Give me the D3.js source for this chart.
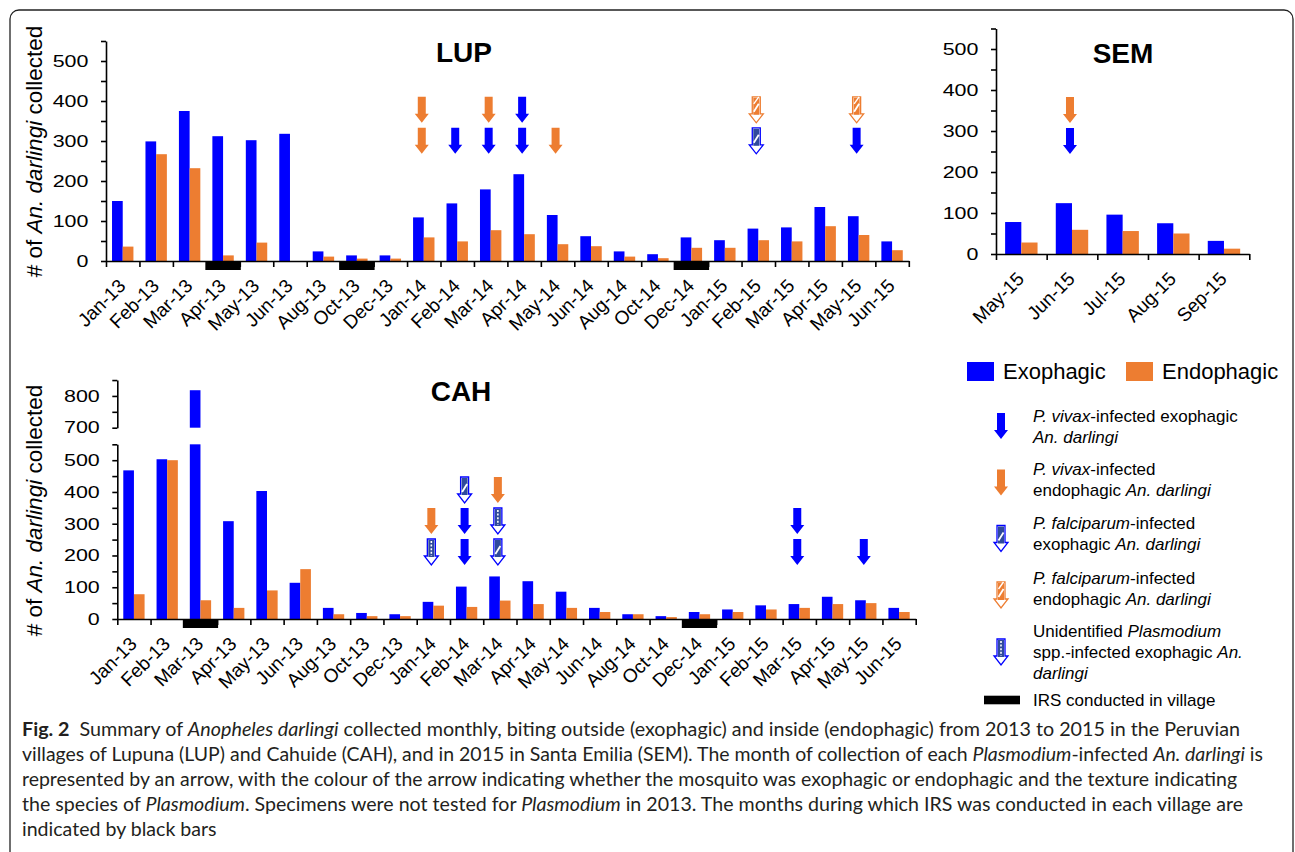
<!DOCTYPE html>
<html>
<head>
<meta charset="utf-8">
<script src="https://cdn.jsdelivr.net/npm/d3@7"></script>
<style>
  body { margin: 0; background: #fff; }
  svg { display: block; font-family: "Liberation Sans", Arial, sans-serif; }
</style>
</head>
<body>
<svg id="fig" width="1295" height="852"></svg>
<script>
// ---- data ----
const months = ["Jan-13","Feb-13","Mar-13","Apr-13","May-13","Jun-13","Aug-13","Oct-13","Dec-13",
  "Jan-14","Feb-14","Mar-14","Apr-14","May-14","Jun-14","Aug-14","Oct-14","Dec-14",
  "Jan-15","Feb-15","Mar-15","Apr-15","May-15","Jun-15"];

const lupExo  = [150,299,375,312,302,318,24,14,14,109,144,179,217,115,62,24,17,59,52,81,84,135,112,49];
const lupEndo = [36,267,232,14,46,0,11,6,6,59,49,77,67,42,37,11,7,33,33,52,49,87,65,27];
const lupIRS = ["Apr-13","Oct-13","Dec-14"];
const lupArrows = [
  {month: "Jan-14", level: 0, kind: "vivaxEndo"}, {month: "Jan-14", level: 1, kind: "vivaxEndo"},
  {month: "Feb-14", level: 0, kind: "vivaxExo"},
  {month: "Mar-14", level: 0, kind: "vivaxExo"}, {month: "Mar-14", level: 1, kind: "vivaxEndo"},
  {month: "Apr-14", level: 0, kind: "vivaxExo"}, {month: "Apr-14", level: 1, kind: "vivaxExo"},
  {month: "May-14", level: 0, kind: "vivaxEndo"},
  {month: "Feb-15", level: 0, kind: "falcExo"}, {month: "Feb-15", level: 1, kind: "falcEndo"},
  {month: "May-15", level: 0, kind: "vivaxExo"}, {month: "May-15", level: 1, kind: "falcEndo"}
];

const cahExo  = [468,503,818,308,403,114,35,19,15,54,102,134,119,86,35,15,9,22,30,43,47,70,59,35];
const cahEndo = [78,500,59,35,90,157,15,9,9,42,38,58,47,35,22,15,6,15,22,30,35,47,50,22];
const cahIRS = ["Mar-13","Dec-14"];
const cahArrows = [
  {month: "Jan-14", level: 0, kind: "unident"}, {month: "Jan-14", level: 1, kind: "vivaxEndo"},
  {month: "Feb-14", level: 0, kind: "vivaxExo"}, {month: "Feb-14", level: 1, kind: "vivaxExo"},
  {month: "Feb-14", level: 2, kind: "falcExo"},
  {month: "Mar-14", level: 0, kind: "falcExo"}, {month: "Mar-14", level: 1, kind: "unident"},
  {month: "Mar-14", level: 2, kind: "vivaxEndo"},
  {month: "Mar-15", level: 0, kind: "vivaxExo"}, {month: "Mar-15", level: 1, kind: "vivaxExo"},
  {month: "May-15", level: 0, kind: "vivaxExo"}
];

const semMonths = ["May-15","Jun-15","Jul-15","Aug-15","Sep-15"];
const semExo  = [78,124,96,75,32];
const semEndo = [28,59,56,50,13];
const semArrows = [
  {month: "Jun-15", level: 0, kind: "vivaxExo"}, {month: "Jun-15", level: 1, kind: "vivaxEndo"}
];

const blue = "#0000ff", orange = "#ed7d31", navy = "#2f4a9c";

const svg = d3.select("#fig");

// frame of the figure
svg.append("rect")
  .attr("x", 10).attr("y", 10).attr("width", 1283).attr("height", 900).attr("rx", 9)
  .attr("fill", "none").attr("stroke", "#222").attr("stroke-width", 1.3);

function drawArrow(parent, cx, tip, kind) {
  const L = 26, H = 9, w = 8, hw = 7;
  const g = parent.append("g").attr("transform", `translate(${cx},${tip})`);
  const d = `M${-w / 2},${-L}H${w / 2}V${-H}H${hw}L0,0L${-hw},${-H}H${-w / 2}Z`;
  if (kind == "vivaxExo" || kind == "vivaxEndo") {
    g.append("path").attr("d", d).attr("fill", kind == "vivaxExo" ? blue : orange);
    return;
  }
  const col = kind == "falcEndo" ? orange : blue;
  g.append("path").attr("d", d).attr("fill", "#fff").attr("stroke", col).attr("stroke-width", 1.3);
  g.append("rect").attr("x", -w / 2 + 1).attr("y", -L + 1).attr("width", w - 2).attr("height", L - H)
    .attr("fill", kind == "falcEndo" ? orange : navy);
  if (kind == "unident") {
    g.append("line").attr("x1", 0).attr("x2", 0).attr("y1", -24).attr("y2", -9)
      .attr("stroke", "#fff").attr("stroke-width", 1.6).attr("stroke-dasharray", "2,1.6");
  } else {
    g.append("line").attr("x1", -2.5).attr("y1", -11).attr("x2", 2.5).attr("y2", -19)
      .attr("stroke", "#fff").attr("stroke-width", 1.8);
    if (kind == "falcEndo") {
      g.append("line").attr("x1", -2.5).attr("y1", -19).attr("x2", 2.5).attr("y2", -26)
        .attr("stroke", "#fff").attr("stroke-width", 1.4);
    }
  }
}

function drawPanel(p) {
  const g = svg.append("g");
  const n = p.months.length;
  const x = d3.scaleBand().domain(p.months).range([p.left, p.right])
    .paddingInner(0.36).paddingOuter(0.18);
  const step = x.step();
  const sub = d3.scaleBand().domain(["exo", "endo"]).range([0, x.bandwidth()]);
  const yLow = d3.scaleLinear().domain([0, 550]).range([p.base, p.base - 550 * p.k]);
  const yUp = p.upper ? d3.scaleLinear().domain([700, 850]).range([p.upper, p.upper - 150 * p.k]) : null;

  // bars
  [["exo", p.exo, blue], ["endo", p.endo, orange]].forEach(([key, vals, col]) => {
    const rows = p.months.map((m, i) => ({m, v: vals[i]}));
    g.append("g").selectAll("rect").data(rows).join("rect")
      .attr("x", d => x(d.m) + sub(key))
      .attr("width", sub.bandwidth())
      .attr("y", d => yLow(Math.min(d.v, 550)))
      .attr("height", d => yLow(0) - yLow(Math.min(d.v, 550)))
      .attr("fill", col);
    if (yUp) {
      g.append("g").selectAll("rect").data(rows.filter(d => d.v > 700)).join("rect")
        .attr("x", d => x(d.m) + sub(key))
        .attr("width", sub.bandwidth())
        .attr("y", d => yUp(d.v))
        .attr("height", d => yUp(700) - yUp(d.v))
        .attr("fill", col);
    }
  });

  // x axis: boundary ticks and labels
  const xb = d3.scaleLinear().domain([0, n]).range([p.left, p.right]);
  const ax = g.append("g").attr("transform", `translate(0,${p.base})`)
    .call(d3.axisBottom(xb).tickValues(d3.range(n + 1)).tickSize(6).tickSizeOuter(0).tickFormat(""));
  ax.selectAll("path,line").attr("stroke", "#000").attr("stroke-width", 1.6);

  const lab = g.append("g").attr("transform", `translate(0,${p.base})`)
    .call(d3.axisBottom(x).tickSize(0).tickSizeOuter(0));
  lab.select(".domain").remove();
  lab.attr("font-family", null).attr("font-size", 19);
  lab.selectAll("text")
    .attr("y", null).attr("dy", null).attr("fill", "#000")
    .attr("text-anchor", "end")
    .attr("transform", "translate(4,26) rotate(-45)");

  // IRS bars
  g.append("g").selectAll("rect").data(p.irs || []).join("rect")
    .attr("x", m => x(m) - step * 0.18 - 1)
    .attr("width", step + 2)
    .attr("y", p.base)
    .attr("height", 9)
    .attr("fill", "#000");

  // y axis (possibly broken)
  function yAxis(scale, ticks) {
    const a = g.append("g").attr("transform", `translate(${p.left},0)`)
      .call(d3.axisLeft(scale).tickValues(ticks).tickSize(5).tickSizeOuter(0)
        .tickFormat(d => d % 100 ? "" : d));
    a.attr("font-family", null).attr("font-size", 16.5);
    a.selectAll("path,line").attr("stroke", "#000").attr("stroke-width", 1.6);
    a.selectAll("text").attr("x", -13.5).attr("fill", "#000").attr("transform", "scale(1.3,1)");
  }
  yAxis(yLow, d3.range(0, 551, 50));
  if (yUp) yAxis(yUp, [700, 750, 800, 850]);

  // title
  g.append("text").attr("x", p.titleX).attr("y", p.titleY)
    .attr("text-anchor", "middle").attr("font-weight", "bold").attr("font-size", 28)
    .text(p.title);

  // y label
  if (p.ylabY) {
    const t = g.append("text")
      .attr("transform", `translate(34,${p.ylabY}) rotate(-90)`)
      .attr("text-anchor", "middle").attr("dy", "0.35em").attr("font-size", 22.5);
    t.append("tspan").text("# of ");
    t.append("tspan").attr("font-style", "italic").text("An. darlingi");
    t.append("tspan").text(" collected");
  }

  // infection arrows
  const tip0 = yLow(p.arrowTip);
  p.arrows.forEach(a => drawArrow(g, x(a.month) + x.bandwidth() / 2 - 2, tip0 - a.level * 31, a.kind));
}

drawPanel({months, exo: lupExo, endo: lupEndo, irs: lupIRS, arrows: lupArrows,
  left: 106, right: 908.8, base: 261, k: 0.4, arrowTip: 268,
  title: "LUP", titleX: 464, titleY: 62, ylabY: 151.5});

drawPanel({months: semMonths, exo: semExo, endo: semEndo, irs: [], arrows: semArrows,
  left: 996, right: 1249.3, base: 254, k: 0.41, arrowTip: 244,
  title: "SEM", titleX: 1123, titleY: 62.5});

drawPanel({months, exo: cahExo, endo: cahEndo, irs: cahIRS, arrows: cahArrows,
  left: 117.3, right: 915.7, base: 619, k: 0.3176, upper: 427.7, arrowTip: 170,
  title: "CAH", titleX: 461, titleY: 401, ylabY: 510.5});

// ---- legend ----
const lg = svg.append("g");
[["Exophagic", blue, 967], ["Endophagic", orange, 1126]].forEach(([name, col, lx]) => {
  lg.append("rect").attr("x", lx).attr("y", 362).attr("width", 27).attr("height", 19).attr("fill", col);
  lg.append("text").attr("x", lx + 36).attr("y", 371.5).attr("dy", "0.36em")
    .attr("font-size", 22).text(name);
});

const legendItems = [
  {kind: "vivaxExo", tip: 439, top: 415.7,
    lines: [[["P. vivax", 1], ["-infected exophagic", 0]], [["An. darlingi", 1]]]},
  {kind: "vivaxEndo", tip: 495.5, top: 468.5,
    lines: [[["P. vivax", 1], ["-infected", 0]], [["endophagic ", 0], ["An. darlingi", 1]]]},
  {kind: "falcExo", tip: 551.5, top: 523.3,
    lines: [[["P. falciparum", 1], ["-infected", 0]], [["exophagic ", 0], ["An. darlingi", 1]]]},
  {kind: "falcEndo", tip: 608, top: 577.7,
    lines: [[["P. falciparum", 1], ["-infected", 0]], [["endophagic ", 0], ["An. darlingi", 1]]]},
  {kind: "unident", tip: 665, top: 631,
    lines: [[["Unidentified ", 0], ["Plasmodium", 1]], [["spp.-infected exophagic ", 0], ["An.", 1]], [["darlingi", 1]]]}
];
legendItems.forEach(it => {
  drawArrow(lg, 1001, it.tip, it.kind);
  it.lines.forEach((segs, li) => {
    const t = lg.append("text").attr("x", 1033).attr("y", it.top + li * 21).attr("dy", "0.36em")
      .attr("font-size", 17);
    segs.forEach(([s, it2]) => t.append("tspan").attr("font-style", it2 ? "italic" : null).text(s));
  });
});
lg.append("rect").attr("x", 984).attr("y", 695.7).attr("width", 36).attr("height", 8.6).attr("fill", "#000");
lg.append("text").attr("x", 1033).attr("y", 700).attr("dy", "0.36em").attr("font-size", 17)
  .text("IRS conducted in village");

// ---- caption ----
const captionLines = [
  [["Fig. 2", "b"], ["  Summary of ", ""], ["Anopheles darlingi", "i"],
   [" collected monthly, biting outside (exophagic) and inside (endophagic) from 2013 to 2015 in the Peruvian", ""]],
  [["villages of Lupuna (LUP) and Cahuide (CAH), and in 2015 in Santa Emilia (SEM). The month of collection of each ", ""],
   ["Plasmodium", "i"], ["-infected ", ""], ["An. darlingi", "i"], [" is", ""]],
  [["represented by an arrow, with the colour of the arrow indicating whether the mosquito was exophagic or endophagic and the texture indicating", ""]],
  [["the species of ", ""], ["Plasmodium", "i"], [". Specimens were not tested for ", ""], ["Plasmodium", "i"],
   [" in 2013. The months during which IRS was conducted in each village are", ""]],
  [["indicated by black bars", ""]]
];
const captionWidths = [1218, 1241, 1215, 1221, null];

const cap = svg.append("g").attr("font-family", "Lato, 'Noto Sans', sans-serif").attr("font-size", 19.5)
  .attr("fill", "#231f20");
const ratios = [];
const capTexts = captionLines.map((segs, i) => {
  const t = cap.append("text").attr("x", 22).attr("y", 736 + i * 25).attr("xml:space", "preserve");
  segs.forEach(([s, st]) => t.append("tspan")
    .attr("font-weight", st == "b" ? "bold" : null)
    .attr("font-style", st == "i" ? "italic" : null)
    .text(s));
  return t;
});
capTexts.forEach((t, i) => {
  if (captionWidths[i]) ratios.push(captionWidths[i] / t.node().getComputedTextLength());
});
const meanRatio = d3.mean(ratios);
capTexts.forEach((t, i) => {
  const w = captionWidths[i] || t.node().getComputedTextLength() * meanRatio;
  t.attr("textLength", w).attr("lengthAdjust", "spacingAndGlyphs");
});
</script>
</body>
</html>
